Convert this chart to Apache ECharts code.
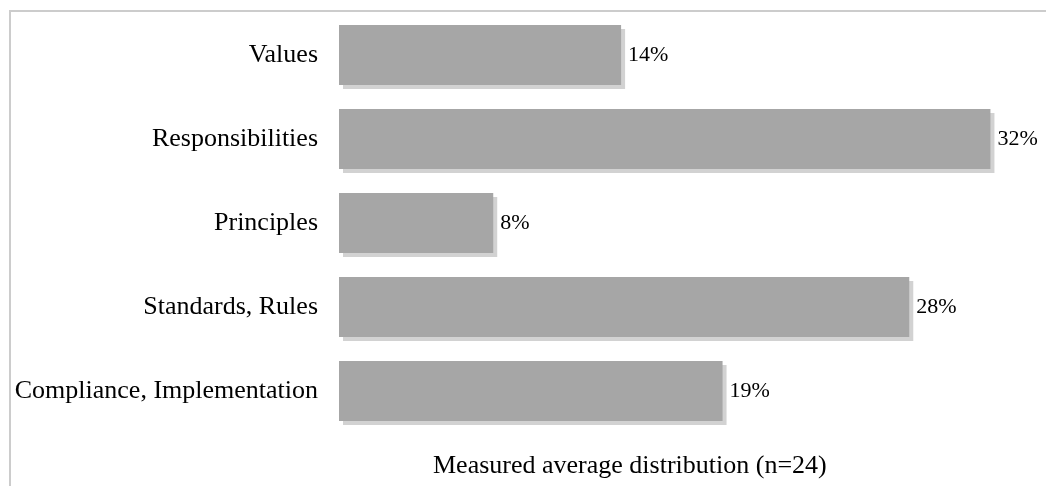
<!DOCTYPE html>
<html>
<head>
<meta charset="utf-8">
<script src="https://cdn.jsdelivr.net/npm/echarts@6/dist/echarts.min.js"></script>
<style>
  html, body { margin: 0; padding: 0; background: #fff; }
  .main { width: 1046px; height: 486px; }
</style>
</head>
<body>
<div class="main"></div>
<script>
var categories = ['Values', 'Responsibilities', 'Principles', 'Standards, Rules', 'Compliance, Implementation'];
var shares = [13.9, 32.1, 7.6, 28.1, 18.9];
var axisTitle = 'Measured average distribution (n=24)';

var serif = '"Liberation Serif", "Times New Roman", serif';
var myChart = echarts.init(document.querySelector('.main'));

var option = {
    animation: false,
    title: {
        text: axisTitle,
        left: 433,
        top: 453,
        padding: 0,
        textStyle: {
            fontFamily: serif,
            fontSize: 26,
            fontWeight: 'normal',
            color: '#000'
        }
    },
    graphic: [{
        type: 'polyline',
        shape: { points: [[10, 486], [10, 11], [1046, 11]] },
        style: { stroke: '#cccccc', lineWidth: 2, fill: null }
    }],
    grid: {
        left: 339,
        right: 17,
        top: 13,
        bottom: 53
    },
    xAxis: {
        type: 'value',
        min: 0,
        max: 34,
        show: false
    },
    yAxis: {
        type: 'category',
        data: categories,
        inverse: true,
        axisLine: { show: false },
        axisTick: { show: false },
        splitLine: { show: false },
        axisLabel: {
            margin: 21,
            fontFamily: serif,
            fontSize: 26,
            color: '#000'
        }
    },
    series: [{
        type: 'bar',
        data: shares,
        barCategoryGap: '28.6%',
        itemStyle: {
            color: '#a6a6a6',
            shadowColor: '#d2d2d2',
            shadowOffsetX: 4,
            shadowOffsetY: 4,
            shadowBlur: 0
        },
        label: {
            show: true,
            position: 'right',
            distance: 7,
            fontFamily: serif,
            fontSize: 22,
            color: '#000',
            formatter: function (p) {
                return Math.round(p.value) + '%';
            }
        }
    }]
};

myChart.setOption(option);
</script>
</body>
</html>
